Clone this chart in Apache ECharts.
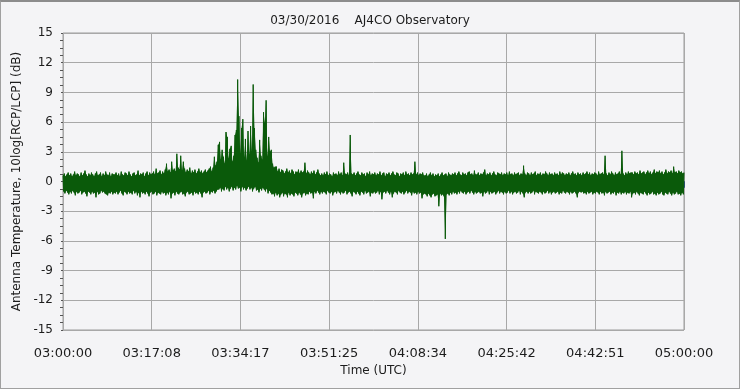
<!DOCTYPE html>
<html>
<head>
<meta charset="utf-8">
<script src="https://cdn.jsdelivr.net/npm/echarts@6/dist/echarts.min.js"></script>
<style>
  html, body { margin: 0; padding: 0; background: #f4f4f6; }
  #frame { position: absolute; left: 0; top: 0; width: 740px; height: 389px; box-sizing: border-box;
           border: 1px solid #a0a0a0; border-top: 2px solid #8c8c8c; }
  #chart { position: absolute; left: 0; top: 0; width: 740px; height: 389px; }
</style>
</head>
<body>
<div id="chart"></div>
<div id="frame"></div>
<script>
// Time axis: minutes after 03:00:00 UTC, 0..120, one bin every quarter minute
const titleText = '03/30/2016    AJ4CO Observatory';
const yName = 'Antenna Temperature, 10log[RCP/LCP] (dB)';
const xName = 'Time (UTC)';
const startHour = 3;
const binMinutes = 0.25;

// Local maxima per quarter-minute bin (dB)
const hiValues = [
  0.6,0.8,0.5,0.7,0.9,0.6,0.8,0.5,0.7,1.0, 0.6,0.8,0.7,0.5,0.9,0.6,0.8,1.1,0.7,0.5,
  0.8,0.6,0.9,0.7,0.5,0.8,1.0,0.6,0.7,0.9, 0.5,0.8,0.6,1.0,0.7,0.6,0.9,0.5,0.8,0.7,
  0.7,0.9,0.6,0.8,0.5,1.0,0.7,0.6,0.9,0.8, 0.6,1.0,0.7,0.5,0.8,0.9,0.6,0.7,1.1,0.6,
  0.8,0.7,0.9,0.5,0.8,1.0,0.6,0.9,0.7,0.8, 1.0,0.7,1.3,0.8,0.9,1.1,0.7,1.0,0.8,1.2,
  1.8,1.0,1.2,0.9,2.0,1.1,1.3,1.0,2.8,1.4, 1.2,2.6,1.1,2.0,1.3,0.9,1.2,1.0,1.4,0.8,
  1.1,0.9,1.2,0.8,1.0,1.3,0.9,1.1,0.8,1.0, 1.2,0.9,1.1,1.3,1.5,1.0,1.4,2.5,1.6,2.0,
  3.7,4.0,2.2,3.2,2.5,1.8,5.0,4.5,2.3,3.3, 3.6,2.0,2.6,4.7,5.2,10.3,6.6,2.8,5.4,6.3,
  2.4,4.3,2.1,5.1,2.7,5.6,3.0,9.8,5.4,3.2, 2.4,1.9,4.2,2.6,2.2,7.0,5.9,8.2,2.5,4.5,
  3.0,3.2,1.8,1.4,1.5,1.5,1.0,1.3,0.9,1.2, 1.1,0.8,1.0,1.3,0.9,1.1,0.8,1.2,1.0,0.7,
  1.0,0.9,1.2,0.8,1.1,0.9,1.0,1.9,0.8,1.1, 0.9,0.7,1.0,0.8,1.1,0.7,0.9,1.2,0.8,0.6,
  0.8,0.6,0.9,0.7,1.0,0.6,0.8,0.7,0.5,0.9, 0.7,0.8,0.6,1.0,0.7,0.9,0.6,1.9,0.8,0.7,
  0.9,0.6,4.7,0.8,0.7,0.9,0.6,0.8,1.0,0.7, 0.6,0.9,0.7,0.8,0.5,0.9,0.7,1.0,0.6,0.8,
  0.7,0.9,0.6,0.8,0.7,1.0,0.6,0.8,0.9,0.5, 0.8,0.7,0.9,0.6,0.8,1.0,0.7,0.6,0.9,0.8,
  0.5,0.8,0.7,0.9,0.6,1.0,0.7,0.8,0.6,0.9, 0.7,0.8,2.0,0.7,0.9,0.6,0.8,0.7,0.9,0.6,
  0.6,0.8,0.5,0.7,0.9,0.6,0.8,0.5,0.7,0.6, 0.8,0.5,0.7,0.9,0.6,0.7,0.8,0.5,0.9,0.7,
  0.6,0.8,0.7,0.9,0.6,0.8,1.0,0.7,0.6,0.9, 0.7,0.8,0.6,0.9,1.0,0.7,0.8,0.6,1.1,0.7,
  0.7,0.9,0.6,0.8,0.7,0.9,1.2,0.6,0.8,0.7, 0.9,0.6,0.8,1.0,0.7,0.6,0.9,0.8,0.7,0.9,
  0.6,0.8,0.7,0.9,0.6,1.0,0.7,0.8,0.6,0.9, 0.7,0.8,0.9,0.6,0.8,0.7,1.6,0.8,0.6,0.9,
  0.8,0.6,0.9,0.7,0.8,1.0,0.6,0.8,0.7,0.9, 0.6,0.8,0.7,1.0,0.8,0.6,0.9,0.7,0.8,0.6,
  0.9,0.7,0.8,0.6,1.0,0.7,0.9,0.8,0.6,0.8, 0.7,0.9,0.6,0.8,1.0,0.7,0.8,0.6,0.9,0.7,
  0.8,0.6,0.9,0.7,0.8,1.0,0.7,0.9,0.6,0.8, 0.7,0.9,0.8,0.6,1.0,0.7,0.8,0.9,0.7,2.6,
  0.8,0.6,0.9,0.7,1.0,0.8,0.6,0.9,0.7,0.8, 1.0,0.7,3.1,0.8,0.6,0.9,0.7,1.0,0.8,0.9,
  0.9,0.7,1.0,0.8,0.9,0.7,1.1,0.8,0.9,1.0, 0.7,0.9,1.1,0.8,1.0,0.7,0.9,1.2,0.8,1.0,
  0.9,1.1,0.8,1.0,0.7,0.9,1.2,0.8,1.0,0.9, 1.1,0.8,1.5,0.9,1.0,0.8,1.1,0.9,1.0,0.8,
  0.9
];

// Local minima, an eighth of a minute after each maximum (dB)
const loValues = [
  -1.0,-1.2,-0.9,-1.1,-1.3,-1.0,-1.2,-0.9,-1.1,-1.4, -1.0,-1.2,-1.1,-0.9,-1.3,-1.1,-1.0,-1.2,-1.5,-1.0,
  -1.1,-1.3,-1.0,-1.2,-1.1,-1.6,-1.0,-1.3,-1.2,-0.9, -1.1,-1.0,-1.2,-1.3,-1.4,-1.1,-1.2,-1.0,-1.3,-1.1,
  -1.2,-1.0,-1.3,-1.1,-0.9,-1.2,-1.4,-1.0,-1.1,-1.3, -1.0,-1.2,-1.1,-1.3,-0.9,-1.2,-1.0,-1.4,-1.1,-1.6,
  -1.0,-1.2,-1.1,-1.3,-1.0,-1.2,-1.5,-1.1,-1.0,-1.3, -1.2,-1.0,-1.4,-1.1,-1.2,-1.3,-1.0,-1.2,-1.1,-1.4,
  -1.1,-1.3,-1.0,-1.7,-1.2,-1.1,-1.4,-1.0,-1.2,-1.3, -1.1,-1.0,-1.3,-1.2,-1.5,-1.1,-1.0,-1.3,-1.2,-1.1,
  -1.4,-1.0,-1.2,-1.1,-1.3,-1.0,-1.2,-1.6,-1.1,-1.0, -1.2,-1.1,-0.9,-1.3,-1.0,-1.1,-0.9,-1.2,-1.0,-0.8,
  -0.8,-0.6,-1.0,-0.7,-0.9,-0.5,-0.8,-0.6,-1.0,-0.7, -0.5,-0.9,-0.6,-0.8,-0.4,-0.7,-0.6,-1.0,-0.5,-0.8,
  -0.6,-0.9,-0.7,-0.5,-0.8,-0.6,-1.0,-0.7,-0.5,-0.9, -0.8,-1.1,-0.7,-0.9,-0.6,-0.8,-1.0,-0.7,-1.2,-0.9,
  -1.1,-1.3,-1.2,-1.5,-1.1,-1.4,-1.2,-1.6,-1.3,-1.1, -1.5,-1.2,-1.3,-1.6,-1.1,-1.4,-1.2,-1.3,-1.5,-1.1,
  -1.2,-1.4,-1.1,-1.3,-1.6,-1.2,-1.1,-1.4,-1.2,-1.3, -1.0,-1.2,-1.1,-1.7,-1.0,-1.2,-0.9,-1.1,-1.3,-1.0,
  -1.2,-1.0,-1.1,-1.3,-0.9,-1.1,-1.2,-1.0,-1.4,-1.1, -1.0,-1.2,-0.9,-1.1,-1.3,-1.0,-1.2,-1.1,-0.9,-1.3,
  -1.1,-1.0,-1.2,-1.5,-1.0,-1.1,-1.3,-1.0,-1.2,-1.4, -1.0,-1.1,-1.3,-0.9,-1.2,-1.1,-1.0,-1.5,-1.1,-1.2,
  -1.0,-1.2,-1.1,-0.9,-1.3,-1.0,-1.8,-1.1,-1.0,-1.2, -0.9,-1.1,-1.3,-1.0,-1.6,-1.2,-1.0,-1.1,-1.3,-0.9,
  -1.1,-1.2,-1.0,-1.3,-1.1,-0.9,-1.2,-1.0,-1.1,-1.4, -1.0,-1.2,-1.1,-1.3,-1.0,-1.2,-1.1,-1.7,-1.3,-1.2,
  -1.3,-1.5,-1.2,-1.4,-1.6,-1.3,-1.2,-1.5,-1.4,-1.3, -2.5,-1.2,-1.4,-1.3,-1.5,-5.8,-1.3,-1.2,-1.4,-1.1,
  -1.3,-1.0,-1.2,-1.1,-1.3,-1.0,-1.2,-0.9,-1.1,-1.2, -1.0,-1.3,-1.1,-1.0,-1.2,-0.9,-1.1,-1.3,-1.0,-1.2,
  -1.1,-1.0,-1.2,-1.1,-1.5,-1.0,-1.2,-1.1,-0.9,-1.3, -1.0,-1.2,-1.1,-1.0,-1.3,-1.1,-0.9,-1.2,-1.0,-1.1,
  -1.3,-1.0,-1.2,-1.1,-0.9,-1.2,-1.0,-1.3,-1.1,-1.0, -1.2,-1.1,-0.9,-1.3,-1.0,-1.2,-1.6,-1.1,-1.0,-1.2,
  -1.0,-1.2,-1.1,-0.9,-1.3,-1.0,-1.1,-1.2,-1.0,-1.1, -1.3,-1.0,-1.2,-1.1,-0.9,-1.2,-1.0,-1.3,-1.1,-1.0,
  -1.2,-1.1,-1.0,-1.3,-1.1,-1.2,-0.9,-1.1,-1.2,-1.0, -1.1,-1.3,-1.0,-1.2,-1.1,-1.0,-1.2,-1.6,-1.1,-1.0,
  -1.1,-1.0,-1.2,-1.1,-1.3,-1.0,-1.2,-1.1,-1.0,-1.3, -1.1,-1.2,-1.0,-1.1,-1.3,-1.0,-1.2,-1.1,-1.4,-1.0,
  -1.2,-1.1,-1.0,-1.3,-1.1,-1.2,-1.0,-1.4,-1.1,-1.2, -1.0,-1.3,-1.1,-1.2,-1.0,-1.3,-1.1,-1.2,-1.0,-1.6,
  -1.2,-1.1,-1.3,-1.0,-1.2,-1.4,-1.1,-1.2,-1.3,-1.0, -1.2,-1.4,-1.1,-1.3,-1.2,-1.0,-1.3,-1.2,-1.4,-1.1,
  -1.3,-1.2,-1.0,-1.3,-1.4,-1.1,-1.2,-1.3,-1.0,-1.2, -1.4,-1.1,-1.3,-1.2,-1.0,-1.3,-1.2,-1.4,-1.1,-1.3
];

const yTicks = { min: -15, max: 15, step: 3 };
const xRange = { min: 0, max: 120, divisions: 7 };

const seriesData = [];
const hiPts = [];
const loPts = [];
for (let i = 0; i < hiValues.length; i++) {
  seriesData.push([i * binMinutes, hiValues[i]]);
  hiPts.push([i * binMinutes, hiValues[i]]);
  if (i < loValues.length) {
    seriesData.push([i * binMinutes + binMinutes / 2, loValues[i]]);
    loPts.push([i * binMinutes + binMinutes / 2, loValues[i]]);
  }
}

function fmtTime(m) {
  const totalSec = Math.floor(Math.round(m * 60 * 1e4) / 1e4 + 1e-6);
  const h = startHour + Math.floor(totalSec / 3600);
  const mm = Math.floor((totalSec % 3600) / 60);
  const ss = totalSec % 60;
  const p = n => String(n).padStart(2, '0');
  return p(h) + ':' + p(mm) + ':' + p(ss);
}

const font = 'DejaVu Sans';
const textColor = '#1c1c1c';
const tickColor = '#2c4d7c';
const gridColor = '#a8a8a8';
const lineColor = '#0a5a0a';
const xInterval = (xRange.max - xRange.min) / xRange.divisions;

const chart = echarts.init(document.getElementById('chart'), null, { renderer: 'canvas' });
chart.setOption({
  animation: false,
  backgroundColor: '#f4f4f6',
  title: {
    text: titleText, left: 'center', top: 10,
    textStyle: { fontFamily: font, fontSize: 12, fontWeight: 'normal', color: textColor }
  },
  grid: { left: 63, right: 56, top: 33, bottom: 59, show: true, borderColor: '#9c9c9c', borderWidth: 1, backgroundColor: 'transparent' },
  xAxis: [{
    type: 'value', min: xRange.min, max: xRange.max, interval: xInterval,
    name: xName, nameLocation: 'middle', nameGap: 34,
    nameTextStyle: { fontFamily: font, fontSize: 12, color: textColor },
    axisLine: { show: false }, axisTick: { show: false },
    axisLabel: { fontFamily: font, fontSize: 13, color: textColor, margin: 17, formatter: v => fmtTime(v) },
    splitLine: { show: true, lineStyle: { color: gridColor, width: 1 } }
  }, {
    type: 'value', min: xRange.min, max: xRange.max, interval: xInterval, position: 'bottom', offset: 4,
    axisLine: { show: false }, axisLabel: { show: false }, splitLine: { show: false },
    axisTick: { show: true, length: 6, lineStyle: { color: tickColor, width: 1 } },
    minorTick: { show: true, splitNumber: 5, length: 3, lineStyle: { color: tickColor, width: 1 } }
  }],
  yAxis: [{
    type: 'value', min: yTicks.min, max: yTicks.max, interval: yTicks.step,
    name: yName, nameLocation: 'middle', nameGap: 39, nameRotate: 90,
    nameTextStyle: { fontFamily: font, fontSize: 12, color: textColor },
    axisLine: { show: false }, axisTick: { show: false },
    axisLabel: { fontFamily: font, fontSize: 12, color: textColor, margin: 10 },
    splitLine: { show: true, lineStyle: { color: gridColor, width: 1 } }
  }, {
    type: 'value', min: yTicks.min, max: yTicks.max, interval: yTicks.step, position: 'left', offset: 3,
    axisLine: { show: false }, axisLabel: { show: false }, splitLine: { show: false },
    axisTick: { show: true, length: 2, lineStyle: { color: '#555', width: 1 } },
    minorTick: { show: true, splitNumber: 4, length: 3, lineStyle: { color: '#555', width: 1 } }
  }],
  series: [{
    type: 'custom', xAxisIndex: 0, yAxisIndex: 0, data: [[0, 0]], silent: true,
    renderItem: function (params, api) {
      const pts = [];
      hiPts.forEach(p => pts.push(api.coord(p)));
      for (let k = loPts.length - 1; k >= 0; k--) pts.push(api.coord(loPts[k]));
      return { type: 'polygon', shape: { points: pts }, style: { fill: lineColor, stroke: null } };
    }
  }, {
    type: 'line', xAxisIndex: 0, yAxisIndex: 0, data: seriesData,
    showSymbol: false, symbol: 'none', sampling: null, smooth: false,
    lineStyle: { color: lineColor, width: 1 }, silent: true
  }]
});
</script>
</body>
</html>
